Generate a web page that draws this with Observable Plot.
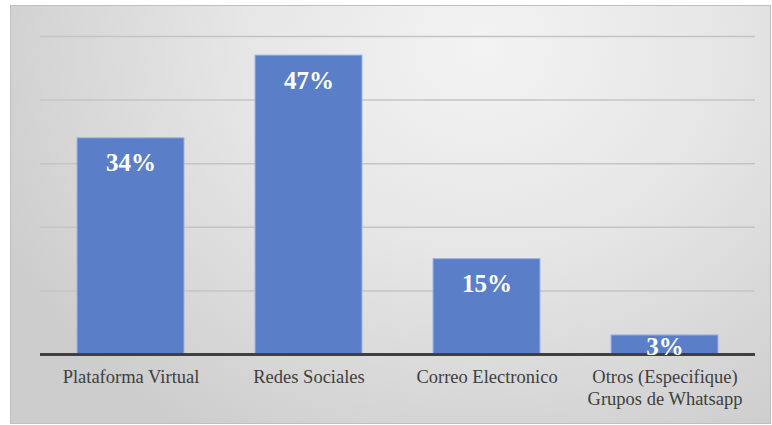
<!DOCTYPE html>
<html>
<head>
<meta charset="utf-8">
<script src="https://cdn.jsdelivr.net/npm/d3@7"></script>
<script src="https://cdn.jsdelivr.net/npm/@observablehq/plot@0.6"></script>
<style>
  html, body { margin: 0; padding: 0; background: #ffffff; }
  #chart {
    position: absolute; left: 10px; top: 5px;
    width: 759px; height: 417px;
    border: 1px solid #bfbfbf;
    background: radial-gradient(ellipse 70% 110% at 62% 10%, #f3f3f3 0%, #e6e6e6 45%, #cdcdcd 100%);
  }
  #chart svg, #chart svg text { font-family: "Liberation Serif", serif !important; }
</style>
</head>
<body>
<div id="chart"></div>
<script>
const categories = ["Plataforma Virtual", "Redes Sociales", "Correo Electronico", "Otros (Especifique)\nGrupos de Whatsapp"];
const values = [34, 47, 15, 3];
const yTicks = [10, 20, 30, 40, 50];

const data = categories.map((c, i) => ({category: c, value: values[i]}));
const serif = "Liberation Serif, serif";

const plot = Plot.plot({
  width: 759,
  height: 417,
  marginLeft: 29,
  marginRight: 15,
  marginTop: 30,
  marginBottom: 69,
  style: {background: "transparent"},
  x: {domain: categories, paddingInner: 0.4, paddingOuter: 0.2, label: null},
  y: {domain: [0, 50], label: null},
  marks: [
    Plot.gridY(yTicks, {stroke: "#c4c4c4", strokeOpacity: 1, strokeWidth: 1.5}),
    Plot.barY(data, {x: "category", y: "value", fill: "#5a7fc8", stroke: "#9fb5e3", strokeWidth: 1}),
    Plot.ruleY([0], {stroke: "#404040", strokeWidth: 3}),
    Plot.text(data, {
      x: "category",
      y: d => Math.max(d.value - 3.95, 1.25),
      text: d => d.value + "%",
      fill: "white",
      fontWeight: "bold",
      fontSize: 25,
      fontFamily: serif
    }),
    Plot.axisX({tickSize: 0, tickPadding: 13, fontSize: 18.5, lineHeight: 1.19, fill: "#404040", fontFamily: serif, label: null}),
    Plot.axisY({ticks: [], label: null, tickSize: 0})
  ]
});
document.getElementById("chart").appendChild(plot);
</script>
</body>
</html>
